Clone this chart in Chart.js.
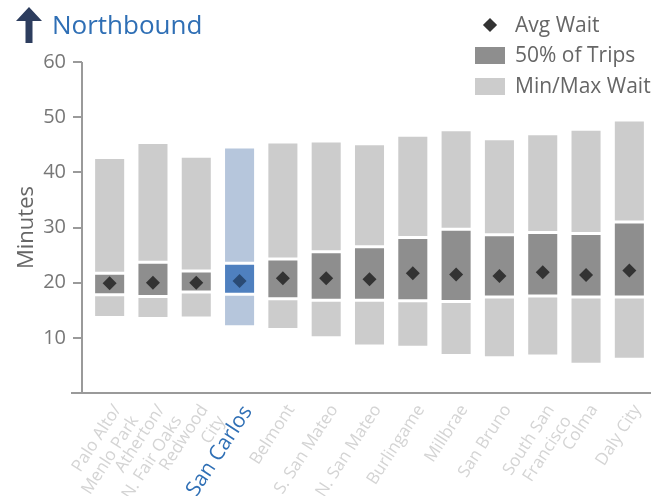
<!DOCTYPE html>
<html>
<head>
<meta charset="utf-8">
<script src="https://cdn.jsdelivr.net/npm/chart.js@4.4.1/dist/chart.umd.min.js"></script>
<style>
  body { margin: 0; background: #fff; font-family: "Open Sans", sans-serif; }
  #wrap { position: relative; width: 658px; height: 496px; }
  #title { position: absolute; left: 52px; top: 6px; font-size: 26px; color: #2f6fb5; }
  #arrow { position: absolute; left: 16px; top: 7px; }
  .leg { position: absolute; left: 475px; font-size: 21px; color: #666; height: 30px; line-height: 30px; }
  .leg span.sw { display: inline-block; width: 30px; height: 17px; vertical-align: middle; margin-right: 10px; position: relative; top: -1px; }
  .leg span.dm { display: inline-block; width: 10px; height: 10px; background: #333; transform: rotate(45deg); margin: 0 20px 0 10px; vertical-align: middle; position: relative; top: -1px; }
</style>
</head>
<body>
<div id="wrap">
  <canvas id="waitChart" width="658" height="496"></canvas>
  <svg id="arrow" width="26" height="36" viewBox="0 0 26 36">
    <polygon points="13,0 26,14 16.5,14 16.5,36 9.5,36 9.5,14 0,14" fill="#2d3d5e"/>
  </svg>
  <div id="title">Northbound</div>
  <div class="leg" style="top:9px"><span class="dm"></span>Avg Wait</div>
  <div class="leg" style="top:39px"><span class="sw" style="background:#8e8e8e"></span>50% of Trips</div>
  <div class="leg" style="top:70px"><span class="sw" style="background:#cccccc"></span>Min/Max Wait</div>
</div>
<script>
const stations = [['Palo Alto/', 'Menlo Park'], ['Atherton/', 'N. Fair Oaks'], ['Redwood', 'City'], 'San Carlos',
  'Belmont', 'S. San Mateo', 'N. San Mateo', 'Burlingame', 'Millbrae', 'San Bruno', ['South San', 'Francisco'], 'Colma', 'Daly City'];
const minWait = [13.7, 13.5, 13.6, 12.0, 11.5, 10.0, 8.5, 8.3, 6.8, 6.4, 6.7, 5.2, 6.1];
const lowQuart = [17.8, 17.5, 18.3, 17.9, 17.1, 16.8, 16.8, 16.7, 16.6, 17.4, 17.6, 17.4, 17.4];
const highQuart = [21.7, 23.7, 22.1, 23.5, 24.3, 25.6, 26.5, 28.2, 29.7, 28.7, 29.1, 28.9, 31.0];
const maxWait = [42.7, 45.4, 42.9, 44.6, 45.5, 45.7, 45.2, 46.7, 47.7, 46.1, 47.0, 47.8, 49.5];
const avgWait = [19.9, 20.0, 20.0, 20.3, 20.8, 20.8, 20.6, 21.7, 21.5, 21.2, 21.9, 21.4, 22.2];
const yTicks = [10, 20, 30, 40, 50, 60];
const selected = 3;

const pick = (normal, hi) => stations.map((s, i) => i === selected ? hi : normal);

// draws the axis lines and y tick marks the way the original does
const axisLines = {
  id: 'axisLines',
  afterDraw(chart) {
    const { ctx, chartArea, scales } = chart;
    const y = scales.y;
    const ax = chartArea.left - 6;
    ctx.save();
    ctx.strokeStyle = '#9a9a9a';
    ctx.lineWidth = 2;
    ctx.beginPath();
    ctx.moveTo(ax, y.getPixelForValue(60));
    ctx.lineTo(ax, chartArea.bottom);
    ctx.moveTo(ax - 11, chartArea.bottom);
    ctx.lineTo(chartArea.right, chartArea.bottom);
    yTicks.forEach(t => {
      const py = Math.round(y.getPixelForValue(t));
      ctx.moveTo(ax - 9, py);
      ctx.lineTo(ax, py);
    });
    ctx.stroke();
    ctx.restore();
  }
};

const barStyle = { grouped: false, borderColor: '#fff', borderWidth: 1.5, borderSkipped: false, categoryPercentage: 1, barPercentage: 0.74 };

new Chart(document.getElementById('waitChart'), {
  type: 'bar',
  data: {
    labels: stations,
    datasets: [
      {
        type: 'line', label: 'Avg Wait', data: avgWait, showLine: false,
        pointStyle: 'rectRot', pointRadius: 7, pointHoverRadius: 7, pointBorderWidth: 0,
        pointBackgroundColor: pick('#333333', '#2a4a74'), order: 0
      },
      {
        label: 'Min/Max Wait', data: stations.map((s, i) => [minWait[i], lowQuart[i]]),
        backgroundColor: pick('#cccccc', '#b6c6dc'), order: 2, ...barStyle
      },
      {
        label: '50% of Trips', data: stations.map((s, i) => [lowQuart[i], highQuart[i]]),
        backgroundColor: pick('#8e8e8e', '#4f80bf'), order: 2, ...barStyle
      },
      {
        label: 'Min/Max Wait', data: stations.map((s, i) => [highQuart[i], maxWait[i]]),
        backgroundColor: pick('#cccccc', '#b6c6dc'), order: 2, ...barStyle
      }
    ]
  },
  options: {
    responsive: false,
    animation: false,
    layout: { padding: { top: 62, right: 5, left: 0, bottom: 0 } },
    plugins: { legend: { display: false }, tooltip: { enabled: false } },
    scales: {
      x: {
        grid: { display: false, drawTicks: false },
        border: { display: false },
        afterFit: s => { s.height = 103; },
        ticks: {
          autoSkip: false, minRotation: 57, maxRotation: 57, padding: 8, labelOffset: 8,
          color: ctx => ctx.index === selected ? '#2f6fb5' : '#d4d4d4',
          font: ctx => ({ family: 'Open Sans', size: ctx.index === selected ? 21 : 17 })
        }
      },
      y: {
        min: 0, max: 60,
        grid: { display: false, drawTicks: false },
        border: { display: false },
        afterFit: s => { s.width = 88; },
        title: { display: true, text: 'Minutes', color: '#666', font: { family: 'Open Sans', size: 22 }, padding: { top: 14, bottom: 0 } },
        ticks: {
          stepSize: 10, padding: 22, color: '#777',
          font: { family: 'Open Sans', size: 20 },
          callback: v => v === 0 ? '' : v
        }
      }
    }
  },
  plugins: [axisLines]
});
</script>
</body>
</html>
